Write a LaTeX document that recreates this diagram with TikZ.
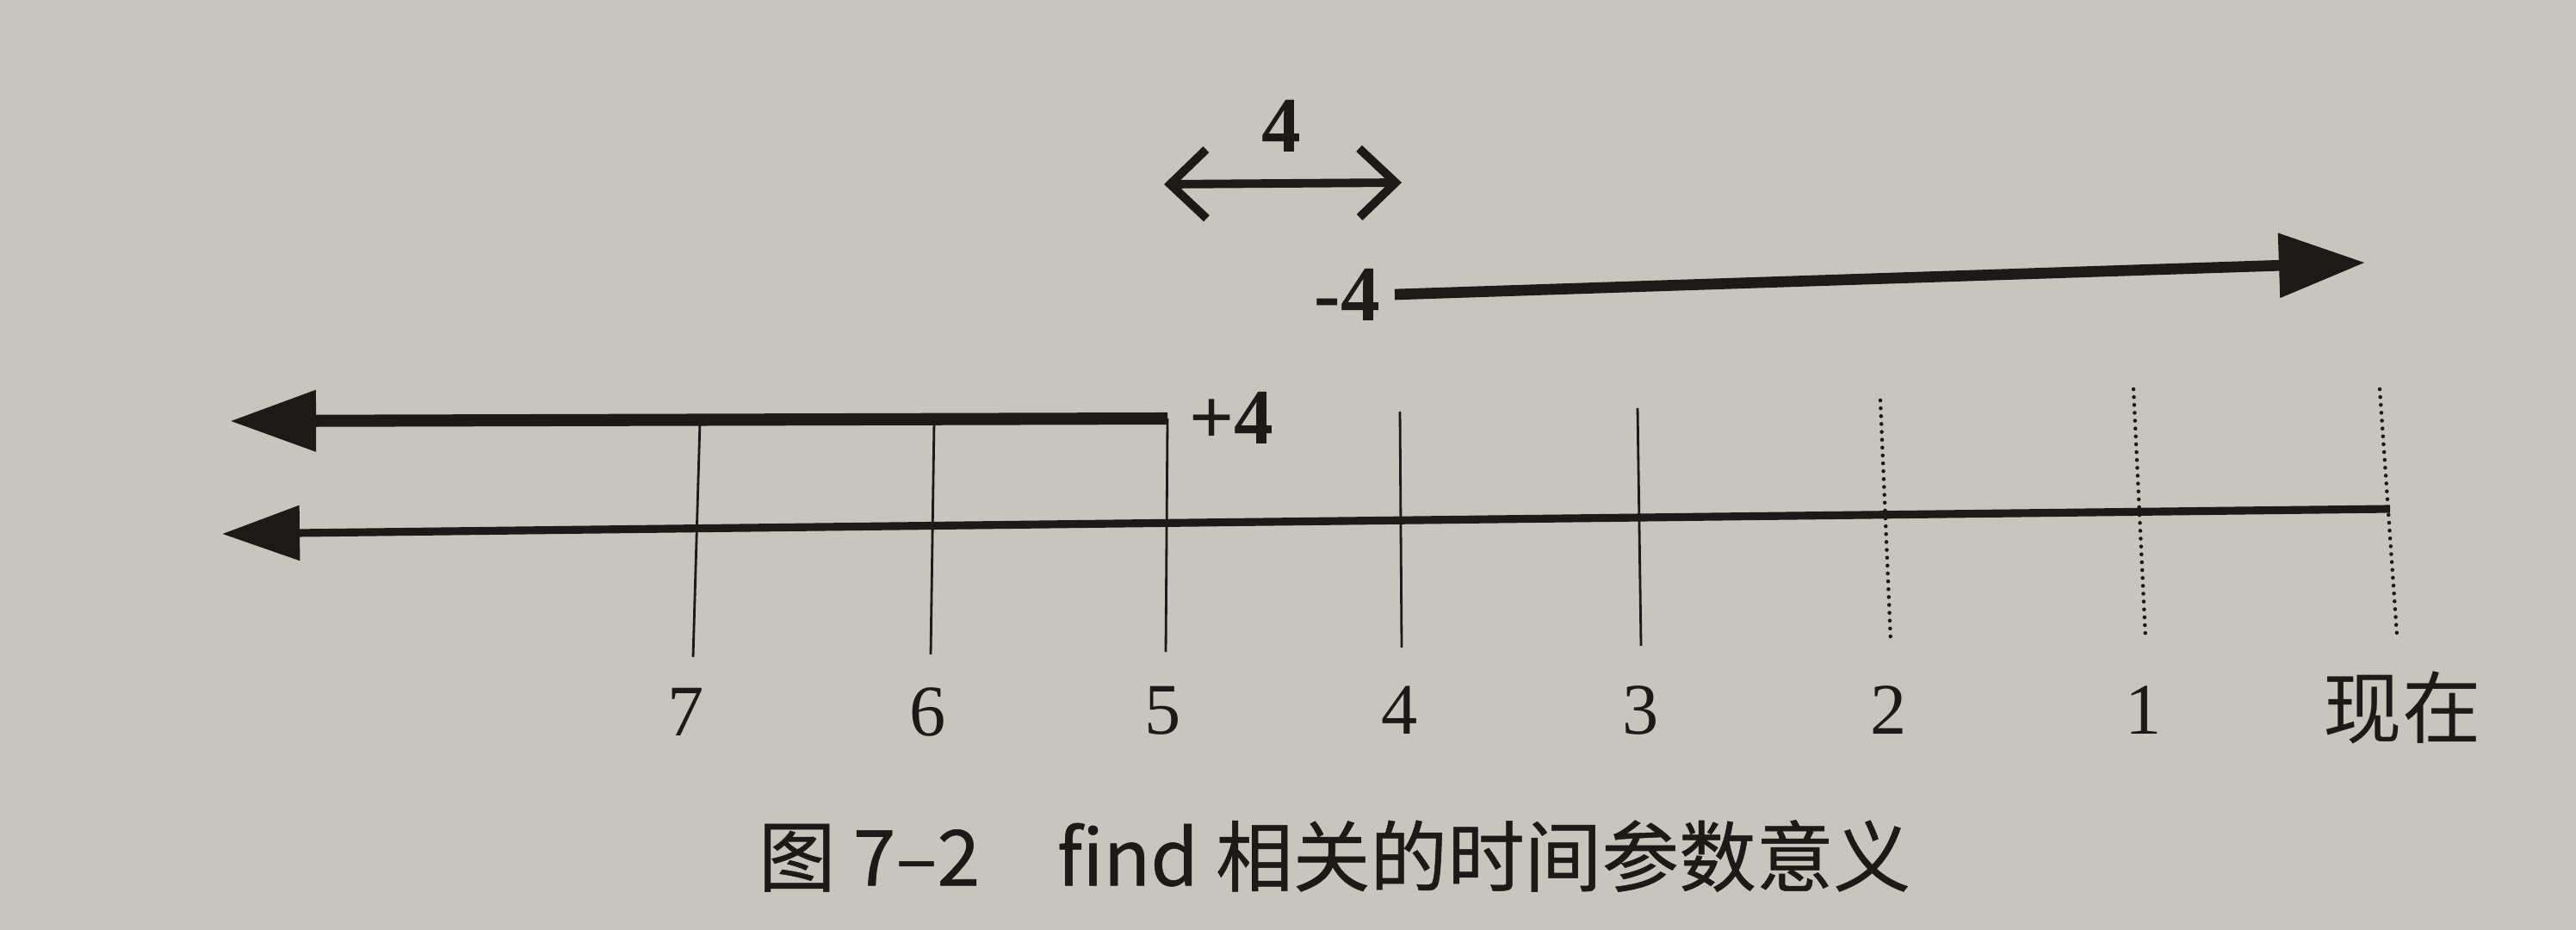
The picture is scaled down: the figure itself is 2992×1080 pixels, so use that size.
\documentclass[tikz,border=0pt]{standalone}
\usepackage{fontspec}
\setmainfont{Liberation Serif}
\newfontfamily\cjk{Noto Sans CJK SC}
\newfontfamily\cjkcap[FakeBold=0.6]{Noto Sans CJK SC}
\usetikzlibrary{arrows.meta}
\definecolor{paper}{RGB}{200,197,190}
\definecolor{ink}{RGB}{28,26,24}
\begin{document}
\begin{tikzpicture}[x=0.01cm,y=-0.01cm,
  tickline/.style={draw=ink,line width=0.8pt},
  dotline/.style={draw=ink,line width=1.3pt,line cap=round,dash pattern=on 0pt off 2.6pt},
  digit/.style={font=\fontsize{24}{24}\selectfont,text=ink,inner sep=0pt},
  bdigit/.style={font=\bfseries\fontsize{26}{26}\selectfont,text=ink,inner sep=0pt},
  axisline/.style={draw=ink,line width=2.6pt,{Triangle[length=0.9cm,width=0.62cm]}-},
  backline/.style={draw=ink,line width=4pt,{Triangle[length=1.0cm,width=0.68cm]}-},
  fwdline/.style={draw=ink,line width=3.6pt,-{Triangle[length=1.0cm,width=0.72cm]}},
  spanline/.style={draw=ink,line width=2.8pt,{Straight Barb[length=0.42cm,width=0.8cm]}-{Straight Barb[length=0.42cm,width=0.8cm]}}
]
\fill[paper] (0,0) rectangle (2992,1080);
\useasboundingbox (0,0) rectangle (2992,1080);

% main time axis
\coordinate (axL) at (258,620);
\coordinate (axR) at (2776,591);
\draw[axisline] (axL) -- (axR);

% +4 arrow
\coordinate (upL) at (267,489);
\coordinate (upR) at (1356,486);
\draw[backline] (upL) -- (upR);
\node[bdigit] (plus) at (1430,485) {+4};

% -4 arrow
\coordinate (dnL) at (1620,342);
\coordinate (dnR) at (2747,305);
\draw[fwdline] (dnL) -- (dnR);
\node[bdigit] (minus) at (1565,342) {-4};

% 4 span arrow
\coordinate (spL) at (1352,214);
\coordinate (spR) at (1628,212);
\draw[spanline] (spL) -- (spR);
\node[bdigit] (four) at (1488,146) {4};

% ticks
\coordinate (t7a) at (813,489);  \coordinate (t7b) at (805,763);
\coordinate (t6a) at (1085,488); \coordinate (t6b) at (1081,760);
\coordinate (t5a) at (1356,486); \coordinate (t5b) at (1354,757);
\coordinate (t4a) at (1626,478); \coordinate (t4b) at (1628,752);
\coordinate (t3a) at (1902,474); \coordinate (t3b) at (1906,750);
\coordinate (t2a) at (2184,465); \coordinate (t2b) at (2196,745);
\coordinate (t1a) at (2478,452); \coordinate (t1b) at (2492,742);
\coordinate (t0a) at (2764,452); \coordinate (t0b) at (2784,738);
\foreach \n in {7,6,5,4,3} \draw[tickline] (t\n a) -- (t\n b);
\foreach \n in {2,1,0} \draw[dotline] (t\n a) -- (t\n b);

% tick labels
\node[digit] (l7) at (797,827) {7};
\node[digit] (l6) at (1078,827) {6};
\node[digit] (l5) at (1351,825) {5};
\node[digit] (l4) at (1626,825) {4};
\node[digit] (l3) at (1906,825) {3};
\node[digit] (l2) at (2194,825) {2};
\node[digit] (l1) at (2490,825) {1};
\node[inner sep=0pt,text=ink,font=\cjk\fontsize{26}{26}\selectfont] (now) at (2790,822) {现在};

% caption
\node[inner sep=0pt,text=ink,font=\cjkcap\fontsize{25.5}{25.5}\selectfont] (cap) at (1550,994) {图 7–2\quad find 相关的时间参数意义};
\end{tikzpicture}
\end{document}
